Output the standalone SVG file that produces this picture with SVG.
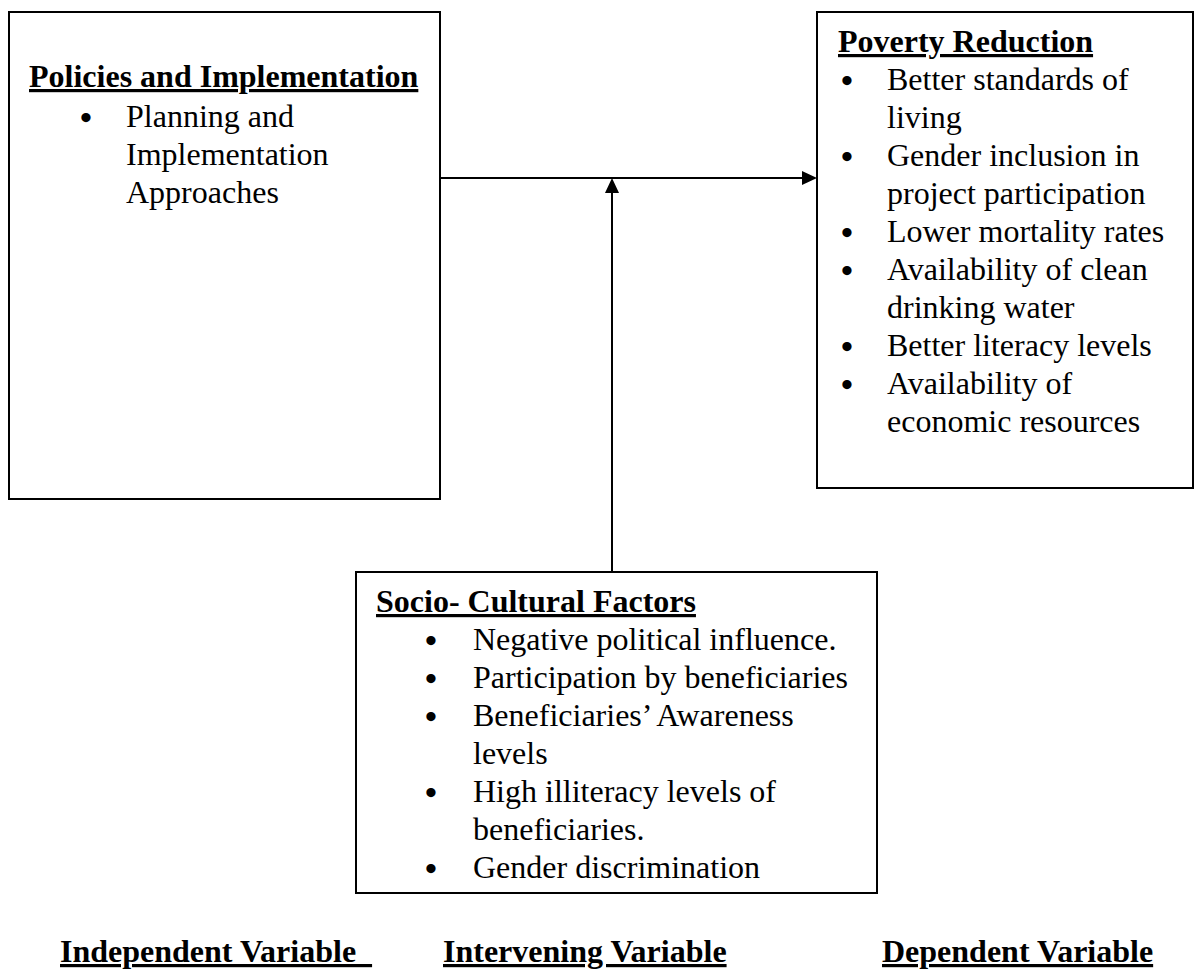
<svg xmlns="http://www.w3.org/2000/svg" width="1195" height="969" viewBox="0 0 1195 969">
<style>
  text { font-family: "Liberation Serif", "Times New Roman", serif; font-size: 32px; fill: #000; }
  .h { font-weight: bold; text-decoration: underline; }
  .b { text-anchor: middle; font-size: 34px; font-weight: bold; }
  .box { fill: #fff; stroke: #000; stroke-width: 2; }
  .conn { stroke: #000; stroke-width: 2; fill: none; }
</style>
<defs>
  <marker id="arrow" viewBox="0 0 15 14" refX="2" refY="7" markerWidth="15" markerHeight="14" markerUnits="userSpaceOnUse" orient="auto">
    <path d="M0,0 L15,7 L0,14 z" fill="#000"/>
  </marker>
</defs>
<rect width="1195" height="969" fill="#fff"/>

<g id="node-policies">
  <rect class="box" x="9" y="12" width="431" height="487"/>
  <text class="h" x="29" y="87">Policies and Implementation</text>
  <text class="b" x="86" y="129">•</text>
  <text x="126" y="127">Planning and</text>
  <text x="126" y="165">Implementation</text>
  <text x="126" y="203">Approaches</text>
</g>

<g id="node-poverty">
  <rect class="box" x="817" y="12" width="376" height="476"/>
  <text class="h" x="838" y="52">Poverty Reduction</text>
  <text class="b" x="847" y="92">•</text>
  <text x="887" y="90">Better standards of</text>
  <text x="887" y="128">living</text>
  <text class="b" x="847" y="168">•</text>
  <text x="887" y="166">Gender inclusion in</text>
  <text x="887" y="204">project participation</text>
  <text class="b" x="847" y="244">•</text>
  <text x="887" y="242">Lower mortality rates</text>
  <text class="b" x="847" y="282">•</text>
  <text x="887" y="280">Availability of clean</text>
  <text x="887" y="318">drinking water</text>
  <text class="b" x="847" y="358">•</text>
  <text x="887" y="356">Better literacy levels</text>
  <text class="b" x="847" y="396">•</text>
  <text x="887" y="394">Availability of</text>
  <text x="887" y="432">economic resources</text>
</g>

<g id="node-socio">
  <rect class="box" x="356" y="572" width="521" height="321"/>
  <text class="h" x="376" y="612">Socio- Cultural Factors</text>
  <text class="b" x="431" y="652">•</text>
  <text x="473" y="650">Negative political influence.</text>
  <text class="b" x="431" y="690">•</text>
  <text x="473" y="688">Participation by beneficiaries</text>
  <text class="b" x="431" y="728">•</text>
  <text x="473" y="726">Beneficiaries’ Awareness</text>
  <text x="473" y="764">levels</text>
  <text class="b" x="431" y="804">•</text>
  <text x="473" y="802">High illiteracy levels of</text>
  <text x="473" y="840">beneficiaries.</text>
  <text class="b" x="431" y="880">•</text>
  <text x="473" y="878">Gender discrimination</text>
</g>

<g id="connectors">
  <line class="conn" x1="440" y1="178" x2="804" y2="178" marker-end="url(#arrow)"/>
  <line class="conn" x1="612" y1="572" x2="612" y2="191" marker-end="url(#arrow)"/>
</g>

<g id="labels">
  <text class="h" x="60" y="962">Independent Variable&#160;&#160;</text>
  <text class="h" x="443" y="962">Intervening Variable</text>
  <text class="h" x="882" y="962">Dependent Variable</text>
</g>
</svg>
